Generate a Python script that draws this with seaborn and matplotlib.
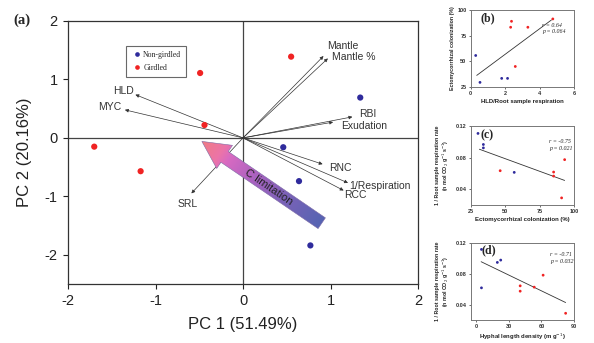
import numpy as np
import pandas as pd
import seaborn as sns
import matplotlib.pyplot as plt
from matplotlib.patches import Polygon
from matplotlib.colors import LinearSegmentedColormap

# ---- panel (a): PCA sample scores
ctrl_pc1 = [1.34, 0.46, 0.64, 0.77]
ctrl_pc2 = [0.69, -0.16, -0.74, -1.84]
gird_pc1 = [0.55, -0.49, -0.44, -1.70, -1.17]
gird_pc2 = [1.39, 1.11, 0.22, -0.15, -0.57]

# variable loadings (arrow tips) and label positions
var_names = ["Mantle", "Mantle %", "HLD", "MYC", "RBI", "Exudation",
             "RNC", "1/Respiration", "RCC", "SRL"]
load_pc1 = [0.92, 0.97, -1.23, -1.35, 1.25, 1.03, 0.91, 1.20, 1.15, -0.59]
load_pc2 = [1.40, 1.36, 0.74, 0.48, 0.36, 0.27, -0.45, -0.77, -0.90, -0.95]
lab_pc1 = [1.14, 1.26, -1.37, -1.52, 1.43, 1.38, 1.11, 1.57, 1.28, -0.63]
lab_pc2 = [1.57, 1.38, 0.81, 0.52, 0.41, 0.20, -0.51, -0.82, -0.98, -1.13]

# "C limitation" arrow: tail and tip in PC space
climit_tail = (0.90, -1.46)
climit_tip = (-0.47, -0.06)

# ---- panel (b)
b_ctrl_x = [0.29, 0.54, 1.80, 2.14]
b_ctrl_y = [55.7, 29.5, 33.4, 33.4]
b_gird_x = [4.77, 2.37, 2.32, 3.32, 2.59]
b_gird_y = [91.3, 89.0, 83.2, 83.2, 45.0]
b_fit_x = [0.35, 4.69]
b_fit_y = [36.3, 90.3]

# ---- panel (c)
c_ctrl_x = [30.3, 34.2, 34.2, 56.6]
c_ctrl_y = [0.1106, 0.0966, 0.0923, 0.0613]
c_gird_x = [46.4, 85.2, 85.2, 93.2, 91.0]
c_gird_y = [0.0634, 0.0617, 0.0566, 0.0774, 0.0290]
c_fit_x = [31.3, 93.2]
c_fit_y = [0.0906, 0.0511]

# ---- panel (d)
d_ctrl_x = [4.9, 19.5, 22.6, 4.9]
d_ctrl_y = [0.1113, 0.0945, 0.0975, 0.0616]
d_gird_x = [40.5, 40.5, 53.4, 61.6, 82.3]
d_gird_y = [0.0642, 0.0573, 0.0625, 0.0780, 0.0287]
d_fit_x = [4.6, 82.3]
d_fit_y = [0.0954, 0.0426]

BLUE = "#2f2b9c"
RED = "#f02323"
pal = {"Non-girdled": BLUE, "Girdled": RED}

sns.set_style("ticks")
plt.rcParams["font.family"] = ["Liberation Sans", "DejaVu Sans"]
plt.rcParams["axes.unicode_minus"] = False

W, H = 594, 343
fig = plt.figure(figsize=(W / 100, H / 100), dpi=100)

# ================= main PCA biplot =================
axpos = [68 / W, 1 - 284 / H, 350 / W, 263 / H]
ax = fig.add_axes(axpos)
xlim, ylim = (-2, 2), (-2.5, 2)

scores = pd.DataFrame({
    "PC1": ctrl_pc1 + gird_pc1,
    "PC2": ctrl_pc2 + gird_pc2,
    "Treatment": ["Non-girdled"] * len(ctrl_pc1) + ["Girdled"] * len(gird_pc1),
})

ax.axhline(0, color="#444444", lw=0.9, zorder=1)
ax.axvline(0, color="#444444", lw=0.9, zorder=1)

for i, name in enumerate(var_names):
    ax.annotate("", xy=(load_pc1[i], load_pc2[i]), xytext=(0, 0),
                arrowprops=dict(arrowstyle="-|>", color="#333333", lw=0.5,
                                mutation_scale=5, shrinkA=0, shrinkB=0),
                zorder=2)
    ax.text(lab_pc1[i], lab_pc2[i], name, fontsize=7.5, color="#333333",
            ha="center", va="center", zorder=5)

# gradient arrow, built in pixel space so the shape is not skewed
sx = axpos[2] * W / (xlim[1] - xlim[0])
sy = axpos[3] * H / (ylim[1] - ylim[0])
T = np.array([climit_tail[0] * sx, climit_tail[1] * sy])
P = np.array([climit_tip[0] * sx, climit_tip[1] * sy])
L = np.linalg.norm(P - T)
u = (P - T) / L
n = np.array([-u[1], u[0]])
w, hw, hl = 6.5, 14.0, 27.5
B = T + u * (L - hl)
pts_px = [T + n * w, B + n * w, B + n * hw, P, B - n * hw, B - n * w, T - n * w]
pts = [(p[0] / sx, p[1] / sy) for p in pts_px]
arrow = Polygon(pts, closed=True, facecolor="none", edgecolor="#7d6aa6",
                lw=0.4, zorder=3.1)
ax.add_patch(arrow)
gx, gy = np.meshgrid(np.linspace(*xlim, 400), np.linspace(*ylim, 400))
tt = ((gx * sx - T[0]) * u[0] + (gy * sy - T[1]) * u[1]) / L
cm = LinearSegmentedColormap.from_list(
    "clim", [(0.0, "#5664b2"), (0.3, "#7a62b8"), (0.55, "#a862c0"),
             (0.78, "#d86ac2"), (0.85, "#ec74a8"), (1.0, "#f07c84")])
im = ax.imshow(tt, extent=[*xlim, *ylim], origin="lower", cmap=cm,
               vmin=0, vmax=1, aspect="auto", zorder=3)
im.set_clip_path(arrow)
ang = np.degrees(np.arctan2(-(P - T)[1], -(P - T)[0]))
ax.text(0.29, -0.835, "C limitation", fontsize=8, color="#222222",
        rotation=ang, rotation_mode="anchor", ha="center", va="center",
        zorder=6)

sns.scatterplot(data=scores, x="PC1", y="PC2", hue="Treatment", palette=pal,
                s=20, linewidth=0, ax=ax, zorder=4)
handles, labels = ax.get_legend_handles_labels()
leg = ax.legend(handles, labels, loc="upper left", bbox_to_anchor=(0.165, 0.905),
                prop={"family": "Liberation Serif", "size": 5.6},
                frameon=True, fancybox=False, edgecolor="#444444",
                handletextpad=0.0, borderpad=0.65, labelspacing=0.65,
                handlelength=1.6, markerscale=0.75, borderaxespad=0)
leg.get_frame().set_linewidth(0.8)

ax.set_xlim(*xlim)
ax.set_ylim(*ylim)
ax.set_xticks([-2, -1, 0, 1, 2])
ax.set_yticks([-2, -1, 0, 1, 2])
ax.tick_params(direction="out", length=3.5, width=0.8, labelsize=10.5,
               pad=4, colors="#222222")
for s in ax.spines.values():
    s.set_visible(True)
    s.set_color("#333333")
    s.set_linewidth(0.9)
ax.set_xlabel("PC 1 (51.49%)", fontsize=12, labelpad=6, color="#222222")
ax.set_ylabel("PC 2 (20.16%)", fontsize=12, labelpad=9, color="#222222")
fig.text(22 / W, 1 - 20 / H, "(a)", fontsize=10.5, fontweight="bold",
         family="Liberation Serif", ha="center", va="center")


# ================= small regression panels =================
def small_panel(rect, cx, cy, gx_, gy_, fx, fy, xl, yl, xt, yt,
                xlabel, ylabel, tag, tagpos, rtxt, ptxt, rpos, ylpad):
    a = fig.add_axes(rect)
    df = pd.DataFrame({
        "x": cx + gx_, "y": cy + gy_,
        "Treatment": ["Non-girdled"] * len(cx) + ["Girdled"] * len(gx_),
    })
    sns.lineplot(x=fx, y=fy, color="#333333", lw=0.6, ax=a)
    sns.scatterplot(data=df, x="x", y="y", hue="Treatment", palette=pal,
                    s=4, linewidth=0, ax=a, legend=False, zorder=4)
    a.set_xlim(*xl)
    a.set_ylim(*yl)
    a.set_xticks(xt)
    a.set_yticks(yt)
    a.tick_params(direction="out", length=1.5, width=0.5, labelsize=4,
                  pad=1.5, colors="#333333")
    for lab in a.get_xticklabels() + a.get_yticklabels():
        lab.set_fontweight("bold")
    for s in a.spines.values():
        s.set_visible(True)
        s.set_color("#777777")
        s.set_linewidth(0.7)
    a.set_xlabel(xlabel, fontsize=4.3, fontweight="bold", labelpad=2,
                 color="#222222")
    a.set_ylabel(ylabel, fontsize=3.8, fontweight="bold", labelpad=ylpad,
                 color="#222222")
    a.text(tagpos[0], tagpos[1], tag, transform=a.transAxes, fontsize=8.5,
           fontweight="bold", family="Liberation Serif", ha="center",
           va="center")
    a.text(rpos[0], rpos[1], rtxt, transform=a.transAxes, fontsize=4.3,
           family="Liberation Serif", style="italic", va="center")
    a.text(rpos[0], rpos[1] - 0.09, ptxt, transform=a.transAxes, fontsize=4.3,
           family="Liberation Serif", style="italic", va="center")
    return a


pw = 103.3 / W
resp_label = "1 / Root sample respiration rate\n(n mol CO$_2$ g$^{-1}$ s$^{-1}$)"

small_panel([470.7 / W, 1 - 87 / H, pw, 77 / H],
            b_ctrl_x, b_ctrl_y, b_gird_x, b_gird_y, b_fit_x, b_fit_y,
            (0, 6), (25, 100), [0, 2, 4, 6], [25, 50, 75, 100],
            "HLD/Root sample respiration", "Ectomycorrhizal colonization (%)",
            "(b)", (0.17, 0.89), "r = 0.64", "p = 0.064", (0.69, 0.805), 2)

small_panel([470.7 / W, 1 - 205 / H, pw, 79 / H],
            c_ctrl_x, c_ctrl_y, c_gird_x, c_gird_y, c_fit_x, c_fit_y,
            (25, 100), (0.02, 0.12), [25, 50, 75, 100], [0.04, 0.08, 0.12],
            "Ectomycorrhizal colonization (%)", resp_label,
            "(c)", (0.155, 0.885), "r = -0.75", "p = 0.021", (0.76, 0.81), 3)

small_panel([470.7 / W, 1 - 320 / H, pw, 77.3 / H],
            d_ctrl_x, d_ctrl_y, d_gird_x, d_gird_y, d_fit_x, d_fit_y,
            (-5, 90), (0.02, 0.12), [0, 30, 60, 90], [0.04, 0.08, 0.12],
            "Hyphal length density (m g$^{-1}$)", resp_label,
            "(d)", (0.18, 0.9), "r = -0.71", "p = 0.032", (0.77, 0.845), 3)

fig.savefig("out.png", dpi=100)
